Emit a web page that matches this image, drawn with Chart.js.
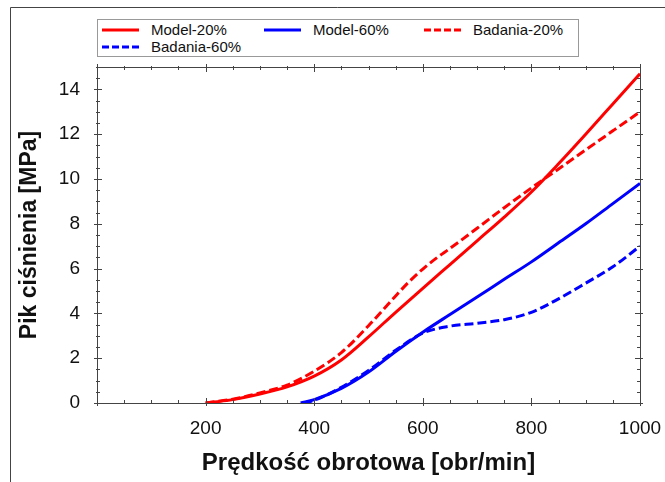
<!DOCTYPE html>
<html>
<head>
<meta charset="utf-8">
<script src="https://cdn.jsdelivr.net/npm/chart.js@4.4.1/dist/chart.umd.min.js"></script>
<style>
	html, body { margin:0; padding:0; background:#fff; }
	#wrap { position:relative; width:665px; height:482px; }
	#legend { position:absolute; left:97px; top:19px; width:480px; height:36px; border:1px solid #999;
		font-family:'Liberation Sans', Arial, sans-serif; font-size:15px; color:#111; background:#fff; }
	.item { position:absolute; height:16px; line-height:16px; white-space:nowrap; }
	.item svg { position:absolute; left:0; top:5px; }
	.item span { position:absolute; left:49px; top:0; }
</style>
</head>
<body>
<div id="wrap">
	<canvas id="myChart" width="665" height="482"></canvas>
	<div id="legend"></div>
</div>
<script>
	//pomiary - predkosc obrotowa [obr/min]
	var speedModel20 = [200, 250, 300, 350, 400, 450, 500, 550, 600, 650, 700, 750, 800, 850, 900, 950, 1000];
	var speedTest20  = [200, 250, 300, 350, 400, 450, 500, 550, 575, 600, 625, 650, 700, 750, 800, 850, 900, 950, 1000];
	var speedModel60 = [375, 400, 450, 500, 550, 600, 650, 700, 750, 800, 850, 900, 950, 1000];
	var speedTest60  = [380, 400, 450, 500, 550, 600, 650, 700, 750, 800, 850, 900, 950, 1000];
	//pik cisnienia [MPa]
	var peakModel20 = [0, 0.15, 0.4, 0.72, 1.2, 1.92, 2.95, 4.05, 5.12, 6.18, 7.24, 8.3, 9.42, 10.68, 12.0, 13.35, 14.7];
	var peakTest20  = [0, 0.17, 0.45, 0.8, 1.42, 2.25, 3.45, 4.78, 5.42, 5.98, 6.47, 6.9, 7.8, 8.72, 9.6, 10.45, 11.3, 12.15, 13.0];
	var peakModel60 = [0, 0.15, 0.65, 1.38, 2.3, 3.16, 3.95, 4.73, 5.52, 6.3, 7.15, 8.0, 8.9, 9.8];
	var peakTest60  = [0, 0.12, 0.7, 1.45, 2.35, 3.12, 3.43, 3.56, 3.72, 4.05, 4.65, 5.35, 6.08, 7.0];
	//legenda
	var seriesNames = ['Model-20%', 'Model-60%', 'Badania-20%', 'Badania-60%'];
	var xTickLabels = ['200', '400', '600', '800', '1000'];

	function toPoints(xs, ys) {
		var pts = [];
		for (var i = 0; i < xs.length; i++) {
			pts.push({x: xs[i], y: ys[i]});
		}
		return pts;
	}

	var styles = [
		{color: 'rgb(255, 0, 0)', dash: []},
		{color: 'rgb(0, 0, 255)', dash: []},
		{color: 'rgb(255, 0, 0)', dash: [9, 4]},
		{color: 'rgb(0, 0, 255)', dash: [9, 4]}
	];
	var series = [
		toPoints(speedModel20, peakModel20),
		toPoints(speedModel60, peakModel60),
		toPoints(speedTest20, peakTest20),
		toPoints(speedTest60, peakTest60)
	];

	var datasets = [];
	for (var i = 0; i < series.length; i++) {
		datasets.push({
			label: seriesNames[i],
			data: series[i],
			borderColor: styles[i].color,
			borderDash: styles[i].dash,
			borderWidth: 3,
			pointRadius: 0,
			fill: false,
			cubicInterpolationMode: 'monotone'
		});
	}

	//legenda html
	var cols = [4, 166, 326];
	var html = '';
	for (var i = 0; i < seriesNames.length; i++) {
		var itemLeft = cols[i % 3];
		var itemTop = i < 3 ? 2 : 19;
		html += '<div class="item" style="left:' + itemLeft + 'px;top:' + itemTop + 'px">';
		html += '<svg width="37" height="6"><line x1="0" y1="3" x2="37" y2="3" stroke="' + styles[i].color + '" stroke-width="3"';
		if (styles[i].dash.length) html += ' stroke-dasharray="7,3"';
		html += '/></svg><span>' + seriesNames[i] + '</span></div>';
	}
	document.getElementById('legend').innerHTML = html;

	//ramka i znaczniki do srodka
	var frameTicks = {
		id: 'frameTicks',
		afterDraw: function(chart) {
			var ctx = chart.ctx, a = chart.chartArea;
			var xs = chart.scales.x, ys = chart.scales.y;
			ctx.save();
			ctx.strokeStyle = '#444';
			ctx.lineWidth = 1;
			ctx.beginPath();
			ctx.moveTo(10.5, 482); ctx.lineTo(10.5, 7.5); ctx.lineTo(665, 7.5);
			ctx.stroke();
			ctx.strokeRect(Math.round(a.left) + 0.5, Math.round(a.top) + 0.5, Math.round(a.right - a.left), Math.round(a.bottom - a.top));
			ctx.beginPath();
			for (var v = 0; v <= 1000; v += 50) {
				var px = Math.round(xs.getPixelForValue(v)) + 0.5;
				var major = v % 200 === 0;
				var inL = major ? 5 : 3, outL = major ? 3 : 1;
				ctx.moveTo(px, a.bottom + outL); ctx.lineTo(px, a.bottom - inL);
				ctx.moveTo(px, a.top - outL); ctx.lineTo(px, a.top + inL);
			}
			for (var v = 0; v <= 15; v += 0.5) {
				var py = Math.round(ys.getPixelForValue(v)) + 0.5;
				var major = v % 2 === 0;
				var inL = major ? 5 : 3, outL = major ? 3 : 1;
				ctx.moveTo(a.left - outL, py); ctx.lineTo(a.left + inL, py);
				ctx.moveTo(a.right + outL, py); ctx.lineTo(a.right - inL, py);
			}
			ctx.stroke();
			ctx.restore();
		}
	};

	var ctx = document.getElementById('myChart').getContext('2d');
	var chart = new Chart(ctx, {
		type: 'line',
		data: { datasets: datasets },
		options: {
			responsive: false,
			animation: false,
			layout: { padding: { left: 0, top: 67, right: 25, bottom: 0 } },
			plugins: { legend: { display: false }, tooltip: { enabled: false } },
			scales: {
				x: {
					type: 'linear', min: 0, max: 1000,
					grid: { display: false, drawTicks: false },
					border: { display: false },
					ticks: {
						stepSize: 200, padding: 14, color: '#111', maxRotation: 0,
						font: { family: "'Liberation Sans', Arial, sans-serif", size: 19 },
						callback: function(v) { return xTickLabels.indexOf(String(v)) >= 0 ? String(v) : ''; }
					},
					title: {
						display: true, text: 'Prędkość obrotowa [obr/min]', color: '#111',
						font: { family: "'Liberation Sans', Arial, sans-serif", size: 24, weight: 'bold' },
						padding: { top: 0, bottom: 4 }
					},
					afterFit: function(scale) {
						scale.height = 79;
						scale.paddingLeft = 0;
						scale.paddingRight = 0;
					}
				},
				y: {
					min: 0, max: 15,
					grid: { display: false, drawTicks: false },
					border: { display: false },
					ticks: {
						stepSize: 2, padding: 17, color: '#111',
						font: { family: "'Liberation Sans', Arial, sans-serif", size: 19 },
						callback: function(v) { return v % 2 === 0 ? v : ''; }
					},
					title: {
						display: true, text: 'Pik ciśnienia [MPa]', color: '#111',
						font: { family: "'Liberation Sans', Arial, sans-serif", size: 23, weight: 'bold' },
						padding: { top: 16, bottom: 0 }
					},
					afterFit: function(scale) {
						scale.width = 97;
						scale.paddingTop = 0;
						scale.paddingBottom = 0;
					}
				}
			}
		},
		plugins: [frameTicks]
	});
</script>
</body>
</html>
